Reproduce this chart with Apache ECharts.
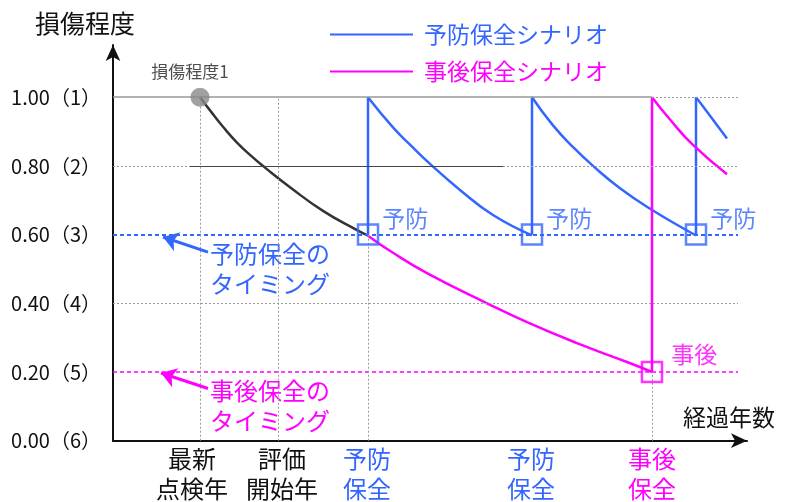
<!DOCTYPE html>
<html>
<head>
<meta charset="utf-8">
<script src="https://cdn.jsdelivr.net/npm/echarts@6/dist/echarts.min.js"></script>
<style>
  html, body { margin: 0; padding: 0; background: #fff; }
  #chart { width: 789px; height: 502px; }
</style>
</head>
<body>
<div id="chart"></div>
<script>
// values (x = elapsed years in arbitrary units, y = damage degree)
const yTicks = [0, 0.2, 0.4, 0.6, 0.8, 1.0];
const yTickLabels = ["0.00（6）", "0.20（5）", "0.40（4）", "0.60（3）", "0.80（2）", "1.00（1）"];

const xCatValues = [7.9, 16.9, 25.4, 41.8, 53.9];
const xCatLabels = ["最新\n点検年", "評価\n開始年", "予防\n保全", "予防\n保全", "事後\n保全"];
const xCatKinds = ["k", "k", "b", "b", "m"];

const preventLevel = 0.6;
const correctLevel = 0.2;
const fullLevel = 1.0;

const latestInspection = [8.7, 1.0];
const evalStart = 16.5;

const currentCurve = [[8.7, 1.0], [9.8, 0.958], [11.0, 0.914], [12.4, 0.868], [13.9, 0.827], [15.2, 0.795], [17.7, 0.738], [21.0, 0.669], [24.4, 0.613], [25.5, 0.597]];

const preventJumps = [25.5, 41.9, 58.3];
const preventCurve1 = [[25.5, 1.0], [28.0, 0.912], [29.7, 0.862], [31.7, 0.806], [34.7, 0.730], [38.0, 0.657], [41.9, 0.598]];
const preventCurve2 = [[41.9, 1.0], [44.0, 0.918], [46.0, 0.855], [48.0, 0.80], [50.7, 0.735], [54.0, 0.67], [57.4, 0.612], [58.3, 0.598]];
const preventCurve3 = [[58.3, 1.0], [59.4, 0.958], [61.4, 0.88]];

const correctJumps = [53.9];
const correctCurve1 = [[25.5, 0.597], [28.0, 0.547], [31.4, 0.488], [37.4, 0.40], [41.4, 0.345], [46.4, 0.284], [51.4, 0.229], [53.9, 0.2]];
const correctCurve2 = [[53.9, 1.0], [55.7, 0.935], [58.0, 0.861], [61.4, 0.776]];

const BLUE = "#3366ff";
const MAGENTA = "#ff00ff";
const FONT = '"Noto Sans CJK JP", "Noto Sans CJK SC", sans-serif';
const X_MAX = 63.4;
const GUIDE_END = 62.5;

const chart = echarts.init(document.getElementById("chart"));

const curve = (name, color, data) => ({
  type: "line", name, data, smooth: 0.5, symbol: "none",
  lineStyle: { color, width: 2.5 }, itemStyle: { color }, z: 3
});
const jump = (name, color, x, from) => ({
  type: "line", name, data: [[x, from], [x, fullLevel]], symbol: "none",
  lineStyle: { color, width: 2.5 }, itemStyle: { color }, z: 3
});

const dotted = { color: "#999", width: 1, type: [2, 2] };
const solidGray = { color: "#999", width: 1.5, type: "solid" };
const solidDark = { color: "#444", width: 1, type: "solid" };
const seg = (a, b, style) => [{ coord: a, lineStyle: style }, { coord: b }];

const option = {
  animation: false,
  textStyle: { fontFamily: FONT },
  grid: { left: 113, right: 42, top: 45, bottom: 61.3 },
  legend: {
    orient: "vertical", left: 325, top: 18, icon: "rect",
    itemWidth: 83, itemHeight: 2, itemGap: 14,
    textStyle: { fontFamily: FONT, fontSize: 23, padding: [0, 0, 0, 6] },
    data: [
      { name: "予防保全シナリオ", textStyle: { color: BLUE } },
      { name: "事後保全シナリオ", textStyle: { color: MAGENTA } }
    ]
  },
  xAxis: {
    type: "value", min: 0, max: X_MAX,
    name: "経過年数", nameLocation: "end", nameGap: 28,
    nameTextStyle: { color: "#111", fontSize: 23, align: "right", verticalAlign: "bottom", padding: [0, 0, 12, 0] },
    axisLine: { lineStyle: { color: "#111", width: 2 }, symbol: ["none", "arrow"], symbolSize: [11, 16] },
    axisTick: { show: false },
    splitLine: { show: false },
    axisLabel: {
      customValues: xCatValues, margin: 3,
      formatter: (v) => {
        const i = xCatValues.findIndex((c) => Math.abs(c - v) < 1e-6);
        if (i < 0) return "";
        return xCatLabels[i].split("\n").map((l) => "{" + xCatKinds[i] + "|" + l + "}").join("\n");
      },
      rich: {
        k: { color: "#111", fontSize: 24, lineHeight: 30, fontFamily: FONT },
        b: { color: BLUE, fontSize: 24, lineHeight: 30, fontFamily: FONT },
        m: { color: MAGENTA, fontSize: 24, lineHeight: 30, fontFamily: FONT }
      }
    }
  },
  yAxis: {
    type: "value", min: 0, max: 1.152,
    name: "損傷程度", nameLocation: "end", nameGap: 9,
    nameTextStyle: { color: "#111", fontSize: 25, padding: [0, 56, 0, 0] },
    axisLine: { lineStyle: { color: "#111", width: 2 }, symbol: ["none", "arrow"], symbolSize: [11, 16] },
    axisTick: { show: false },
    splitLine: { show: false },
    axisLabel: {
      customValues: yTicks, margin: 12, color: "#111", fontSize: 20,
      formatter: (v) => {
        const i = yTicks.findIndex((c) => Math.abs(c - v) < 1e-6);
        return i < 0 ? "" : yTickLabels[i];
      }
    }
  },
  graphic: [
    { type: "text", left: 210, top: 239, style: { text: "予防保全の\nタイミング", fill: BLUE, font: "24px " + FONT, lineHeight: 30 } },
    { type: "text", left: 210, top: 376, style: { text: "事後保全の\nタイミング", fill: MAGENTA, font: "24px " + FONT, lineHeight: 30 } }
  ],
  series: [
    {
      type: "line", data: [], silent: true, z: 1,
      markLine: {
        silent: true, symbol: "none", label: { show: false },
        data: [
          seg([0, fullLevel], [correctJumps[0], fullLevel], solidGray),
          seg([correctJumps[0], fullLevel], [GUIDE_END, fullLevel], dotted),
          seg([0, 0.8], [7.7, 0.8], dotted),
          seg([7.7, 0.8], [39.0, 0.8], solidDark),
          seg([39.0, 0.8], [GUIDE_END, 0.8], dotted),
          seg([0, 0.4], [GUIDE_END, 0.4], dotted),
          seg([0, preventLevel], [GUIDE_END, preventLevel], { color: BLUE, width: 2, type: [4, 3] }),
          seg([0, correctLevel], [GUIDE_END, correctLevel], { color: MAGENTA, width: 1.5, type: [4, 3] }),
          seg([latestInspection[0], 0], [latestInspection[0], fullLevel], dotted),
          seg([evalStart, 0], [evalStart, fullLevel], dotted),
          seg([preventJumps[0], 0], [preventJumps[0], preventLevel], dotted),
          seg([correctJumps[0], 0], [correctJumps[0], correctLevel], dotted)
        ]
      }
    },
    {
      type: "line", data: [], silent: true, z: 4,
      markLine: {
        silent: true, symbol: ["none", "arrow"], symbolSize: 15, label: { show: false },
        data: [
          [{ coord: [9.5, 0.549], lineStyle: { color: BLUE, width: 3, type: "solid" } }, { coord: [5.0, 0.593] }],
          [{ coord: [9.5, 0.152], lineStyle: { color: MAGENTA, width: 3, type: "solid" } }, { coord: [4.8, 0.197] }]
        ]
      }
    },
    curve("損傷程度", "#333", currentCurve),
    ...preventJumps.map((x) => jump("予防保全シナリオ", BLUE, x, preventLevel)),
    curve("予防保全シナリオ", BLUE, preventCurve1),
    curve("予防保全シナリオ", BLUE, preventCurve2),
    curve("予防保全シナリオ", BLUE, preventCurve3),
    curve("事後保全シナリオ", MAGENTA, correctCurve1),
    ...correctJumps.map((x) => jump("事後保全シナリオ", MAGENTA, x, correctLevel)),
    curve("事後保全シナリオ", MAGENTA, correctCurve2),
    {
      type: "scatter", z: 5, symbol: "circle", symbolSize: 19,
      itemStyle: { color: "#888" },
      label: { show: true, position: "top", distance: 8, offset: [-10, 0], formatter: "損傷程度1", color: "#222", fontSize: 17 },
      data: [latestInspection]
    },
    {
      type: "scatter", z: 5, symbol: "rect", symbolSize: 20,
      itemStyle: { color: "rgba(255,255,255,0)", borderColor: BLUE, borderWidth: 2.5 },
      label: { show: true, position: "right", distance: 3, offset: [0, -16], formatter: "予防", color: BLUE, fontSize: 23 },
      data: preventJumps.map((x) => [x, preventLevel])
    },
    {
      type: "scatter", z: 5, symbol: "rect", symbolSize: 20,
      itemStyle: { color: "rgba(255,255,255,0)", borderColor: MAGENTA, borderWidth: 2.5 },
      label: { show: true, position: "right", distance: 8, offset: [0, -18], formatter: "事後", color: MAGENTA, fontSize: 23 },
      data: correctJumps.map((x) => [x, correctLevel])
    }
  ]
};

chart.setOption(option);
</script>
</body>
</html>
